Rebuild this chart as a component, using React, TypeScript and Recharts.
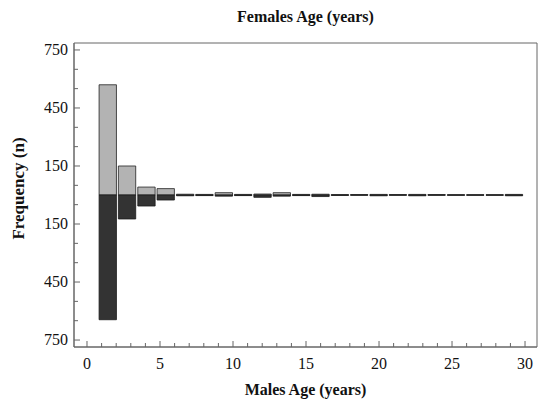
import React from "react";
import { Bar, BarChart, Customized, ReferenceArea, XAxis, YAxis } from "recharts";

// bin centres (years)
const binCenters = [
  1.42, 2.74, 4.07, 5.39, 6.72, 8.04, 9.37, 10.69, 12.02, 13.34, 14.67,
  15.99, 17.32, 18.64, 19.97, 21.29, 22.62, 23.94, 25.27, 26.59, 27.92, 29.24,
];
const females = [570, 150, 41, 33, 4, 3, 12, 3, 5, 12, 3, 4, 2, 2, 3, 2, 3, 2, 1, 1, 1, 3];
const males = [645, 124, 57, 26, 4, 3, 6, 3, 12, 6, 3, 8, 2, 1, 4, 1, 4, 1, 1, 1, 1, 4];

const ageTicks = [
  0, 1, 2, 3, 4, 5, 6, 7, 8, 9, 10, 11, 12, 13, 14, 15, 16, 17, 18, 19, 20,
  21, 22, 23, 24, 25, 26, 27, 28, 29, 30,
];
const ageLabels = [0, 5, 10, 15, 20, 25, 30];
const freqTicks = [
  -750, -650, -550, -450, -350, -250, -150, -50, 50, 150, 250, 350, 450, 550, 650, 750,
];
const freqLabels = [150, 450, 750];

const data = binCenters.map((age, i) => ({
  age,
  females: females[i],
  males: -males[i],
}));

const X_DOMAIN = [-0.89, 30.82];
const Y_DOMAIN = [-786, 786];
const AXIS = "#666";
const FONT = "'Liberation Serif', 'Times New Roman', serif";
const txt = { fontFamily: FONT, fontSize: 16 };

const BottomTick = (props: any) => {
  const { x, y, payload } = props;
  const major = ageLabels.includes(payload.value);
  return (
    <g>
      <line x1={x} x2={x} y1={y} y2={y - (major ? 6 : 4)} stroke={AXIS} />
      {major && (
        <text x={x} y={y + 22} textAnchor="middle" fill="#111" style={txt}>
          {payload.value}
        </text>
      )}
    </g>
  );
};

const TopTick = (props: any) => {
  const { x, y, payload } = props;
  const major = ageLabels.includes(payload.value);
  return <line x1={x} x2={x} y1={y} y2={y + (major ? 6 : 4)} stroke={AXIS} />;
};

const LeftTick = (props: any) => {
  const { x, y, payload } = props;
  const v = Math.abs(payload.value);
  const major = freqLabels.includes(v);
  return (
    <g>
      <line x1={x} x2={x + (major ? 6 : 4)} y1={y} y2={y} stroke={AXIS} />
      {major && (
        <text x={x - 6} y={y + 5} textAnchor="end" fill="#111" style={txt}>
          {v}
        </text>
      )}
    </g>
  );
};

const RightTick = (props: any) => {
  const { x, y, payload } = props;
  const major = freqLabels.includes(Math.abs(payload.value));
  return <line x1={x} x2={x - (major ? 6 : 4)} y1={y} y2={y} stroke={AXIS} />;
};

const Titles = () => (
  <g fill="#111" style={{ fontFamily: FONT, fontWeight: "bold", fontSize: 16 }}>
    <text x={305.5} y={22} textAnchor="middle">Females Age (years)</text>
    <text x={305.5} y={395} textAnchor="middle">Males Age (years)</text>
    <text
      x={0}
      y={0}
      textAnchor="middle"
      transform="translate(24,188.5) rotate(-90)"
      style={{ fontSize: 17 }}
    >
      Frequency (n)
    </text>
  </g>
);

export default function App() {
  return (
    <div style={{ position: "absolute", left: 0, top: 0 }}>
      <BarChart
        width={538}
        height={401}
        data={data}
        stackOffset="sign"
        barCategoryGap={0}
        barGap={0}
        margin={{ top: 43, right: 1, left: 0, bottom: 0 }}
        style={{ fontFamily: FONT }}
      >
        <XAxis
          dataKey="age"
          type="number"
          domain={X_DOMAIN}
          allowDataOverflow
          ticks={ageTicks}
          interval={0}
          height={54}
          tickSize={0}
          tickMargin={0}
          tickLine={false}
          axisLine={{ stroke: AXIS }}
          tick={BottomTick}
        />
        <XAxis
          xAxisId="top"
          orientation="top"
          type="number"
          domain={X_DOMAIN}
          allowDataOverflow
          ticks={ageTicks}
          interval={0}
          height={0}
          tickSize={0}
          tickMargin={0}
          tickLine={false}
          axisLine={false}
          tick={TopTick}
        />
        <YAxis
          type="number"
          domain={Y_DOMAIN}
          allowDataOverflow
          ticks={freqTicks}
          interval={0}
          width={74}
          tickSize={0}
          tickMargin={0}
          tickLine={false}
          axisLine={{ stroke: AXIS }}
          tick={LeftTick}
        />
        <YAxis
          yAxisId="right"
          orientation="right"
          type="number"
          domain={Y_DOMAIN}
          allowDataOverflow
          ticks={freqTicks}
          interval={0}
          width={0}
          tickSize={0}
          tickMargin={0}
          tickLine={false}
          axisLine={false}
          tick={RightTick}
        />
        <ReferenceArea
          x1={X_DOMAIN[0]}
          x2={X_DOMAIN[1]}
          y1={Y_DOMAIN[0]}
          y2={Y_DOMAIN[1]}
          fill="none"
          stroke={AXIS}
          strokeWidth={1}
          ifOverflow="visible"
        />
        <Bar
          dataKey="females"
          stackId="a"
          barSize={19.35}
          fill="#b3b3b3"
          stroke="#222"
          strokeWidth={0.8}
          isAnimationActive={false}
        />
        <Bar
          dataKey="males"
          stackId="a"
          barSize={19.35}
          fill="#333333"
          stroke="#1a1a1a"
          strokeWidth={0.8}
          isAnimationActive={false}
        />
        <Customized component={Titles} />
      </BarChart>
    </div>
  );
}
